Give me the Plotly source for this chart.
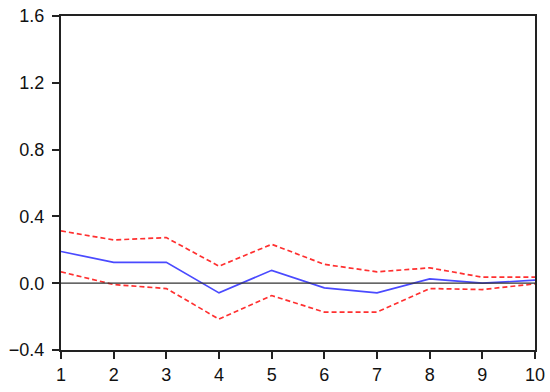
import plotly.graph_objects as go

periods = [1, 2, 3, 4, 5, 6, 7, 8, 9, 10]
response = [0.19, 0.125, 0.125, -0.058, 0.077, -0.028, -0.058, 0.026, 0.0, 0.018]
upper_band = [0.313, 0.259, 0.273, 0.102, 0.233, 0.113, 0.068, 0.092, 0.036, 0.036]
lower_band = [0.068, -0.008, -0.032, -0.215, -0.074, -0.173, -0.173, -0.032, -0.038, -0.004]
y_ticks = [-0.4, 0.0, 0.4, 0.8, 1.2, 1.6]
y_tick_labels = ["\u22120.4", "0.0", "0.4", "0.8", "1.2", "1.6"]

fig = go.Figure()
fig.add_hline(y=0, line=dict(color="#333333", width=1.2))
fig.add_trace(go.Scatter(x=periods, y=upper_band, mode="lines",
                         line=dict(color="#ff3030", width=1.7, dash="5px,3px")))
fig.add_trace(go.Scatter(x=periods, y=lower_band, mode="lines",
                         line=dict(color="#ff3030", width=1.7, dash="5px,3px")))
fig.add_trace(go.Scatter(x=periods, y=response, mode="lines",
                         line=dict(color="#4a4aff", width=1.7)))

fig.update_layout(
    width=550, height=392,
    margin=dict(l=61, r=15, t=16, b=42),
    paper_bgcolor="white", plot_bgcolor="white",
    showlegend=False,
    font=dict(family="Arial, Liberation Sans, sans-serif", size=18, color="#111111"),
)
fig.update_xaxes(range=[1, 10], tickvals=periods, showgrid=False, zeroline=False,
                 automargin=False,
                 showline=True, linecolor="#222222", linewidth=2, mirror=True,
                 ticks="outside", ticklen=7, tickwidth=2, tickcolor="#222222")
fig.update_yaxes(range=[-0.4, 1.6], tickvals=y_ticks, ticktext=y_tick_labels,
                 showgrid=False, zeroline=False, automargin=False,
                 ticklabelstandoff=4,
                 showline=True, linecolor="#222222", linewidth=2, mirror=True,
                 ticks="outside", ticklen=7, tickwidth=2, tickcolor="#222222")

fig.write_html("out.html", config={"displayModeBar": False},
               post_script="document.body.style.margin='0';document.body.style.overflow='hidden';")
